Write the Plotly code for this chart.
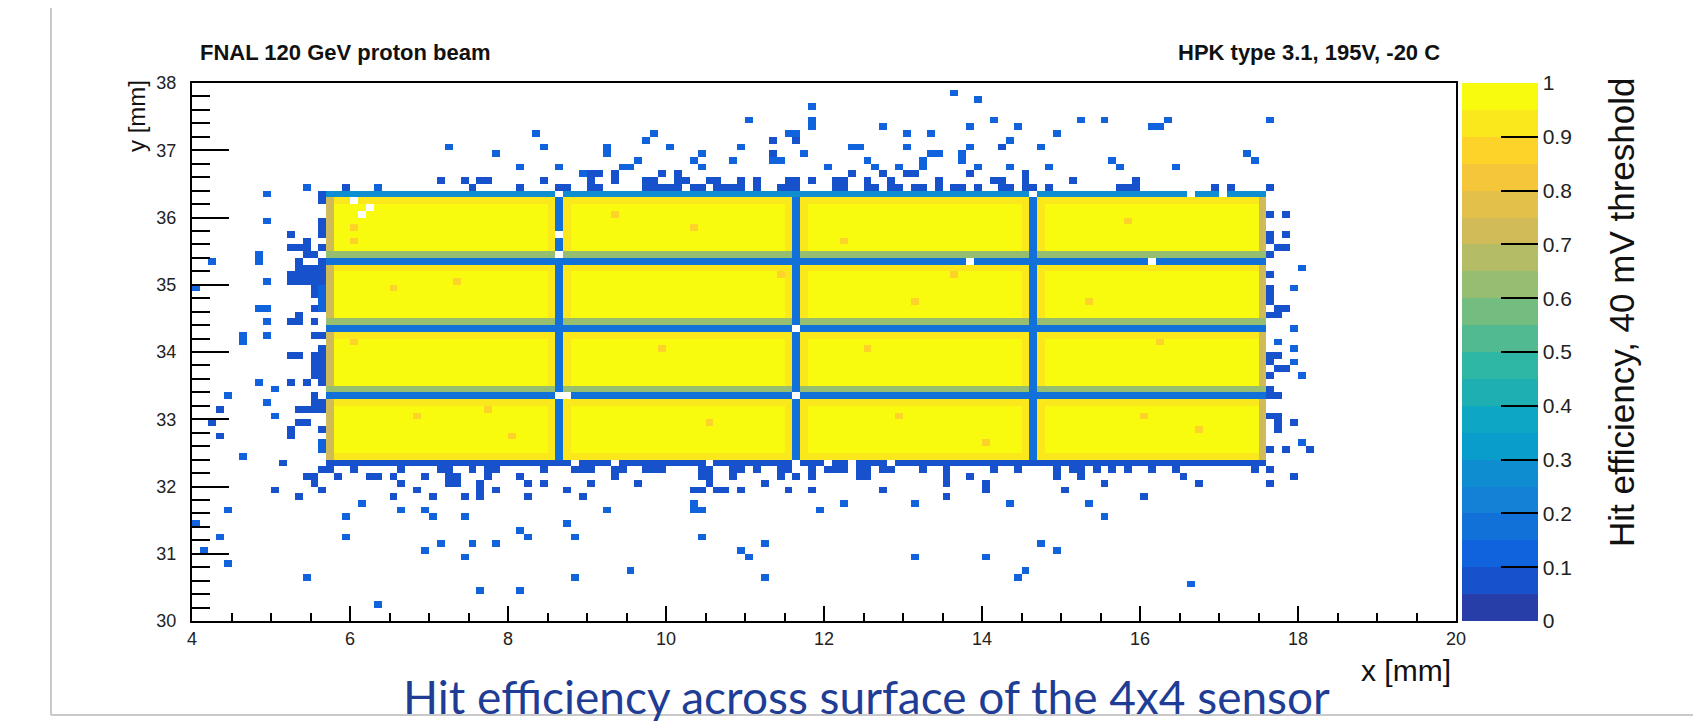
import plotly.graph_objects as go

# ---------------- data ----------------
X_MIN, X_MAX, Y_MIN, Y_MAX, BIN = 4.0, 20.0, 30.0, 38.0, 0.1

# sensor pads (lower, upper edges in mm)
PAD_X = [(5.7, 8.6), (8.7, 11.6), (11.7, 14.6), (14.7, 17.6)]
PAD_Y = [(32.4, 33.3), (33.5, 34.3), (34.5, 35.3), (35.5, 36.3)]
PAD_EFF = 0.985
GAP_SIDE_EFF = 0.9        # pad bins next to inter-pad gaps
LEFT_RIM_EFF = 0.74       # x = 5.7 column
RIGHT_RIM_EFF = 0.72      # x = 17.5 column
TOPBOT_RIM_EFF = 0.92     # first / last pad rows

# inter-pad gaps
VGAP_X = [8.6, 11.6, 14.6]
VGAP_EFF = 0.15
HGAP_LOW_Y = [33.3, 34.3, 35.3]
HGAP_LOW_EFF = 0.16
HGAP_HIGH_Y = [33.4, 34.4, 35.4]
HGAP_HIGH_EFF = 0.6

# sensor edges
TOP_EDGE_Y, TOP_EDGE_EFF = 36.3, 0.28
BOTTOM_EDGE_Y, BOTTOM_EDGE_EFF = 32.3, 0.09

# isolated low-efficiency bins (lower-left bin corners)
DARK_EFF = 0.06
DARK_BINS = [
    (5.9, 36.4), (7.1, 36.5), (7.4, 36.5), (7.5, 36.4), (7.6, 36.5), (7.7, 36.5), (8.1, 36.4),
    (8.4, 36.5), (8.6, 36.4), (8.7, 36.4), (9.0, 36.6), (9.1, 36.6), (9.0, 36.5),
    (9.0, 36.4), (9.1, 36.4), (9.7, 36.4), (9.8, 36.4), (9.9, 36.4), (10.0, 36.4), (10.1, 36.4),
    (10.3, 36.4), (10.4, 36.4), (10.6, 36.4), (10.7, 36.4), (10.8, 36.4), (10.9, 36.4),
    (11.1, 36.4), (11.4, 36.4), (11.5, 36.4), (11.6, 36.4), (12.1, 36.4), (12.2, 36.4),
    (12.5, 36.4), (12.6, 36.4), (12.8, 36.4), (12.9, 36.4), (13.1, 36.4), (13.2, 36.4),
    (13.4, 36.4), (13.6, 36.4), (13.7, 36.4), (13.9, 36.4), (14.2, 36.4), (14.3, 36.4),
    (14.5, 36.4), (14.6, 36.4), (14.8, 36.4), (15.7, 36.4), (15.8, 36.4), (15.9, 36.4),
    (16.9, 36.4), (17.1, 36.4), (17.6, 36.4),
    (9.3, 36.5), (9.7, 36.5), (9.8, 36.5), (10.1, 36.5), (10.2, 36.5), (10.5, 36.5),
    (10.6, 36.5), (10.9, 36.5), (11.1, 36.5), (11.5, 36.5), (11.6, 36.5), (11.8, 36.5),
    (12.1, 36.5), (12.2, 36.5), (12.5, 36.5), (12.8, 36.5), (13.4, 36.5), (14.1, 36.5),
    (14.2, 36.5), (14.5, 36.5), (15.1, 36.5), (15.9, 36.5),
    (9.3, 36.6), (9.9, 36.6), (10.1, 36.6), (12.3, 36.6), (12.7, 36.6), (13.0, 36.6),
    (13.1, 36.6), (13.8, 36.6), (14.5, 36.6), (11.3, 37.1), (11.3, 36.9), (11.6, 37.1),
    (14.2, 37.0),
    # left side
    (5.6, 36.3), (5.6, 36.2), (5.6, 35.9), (5.6, 35.8), (5.6, 35.7), (5.6, 35.5), (5.6, 35.3),
    (5.6, 35.2), (5.6, 35.1), (5.6, 35.0), (5.6, 34.2), (5.6, 34.0), (5.6, 33.9), (5.6, 33.8),
    (5.6, 33.7), (5.6, 33.6), (5.6, 33.5), (5.6, 33.2), (5.6, 33.1), (5.6, 32.8),
    (5.5, 35.4), (5.5, 35.2), (5.5, 35.1), (5.5, 35.0), (5.5, 34.9), (5.5, 34.8), (5.5, 34.6),
    (5.5, 34.4), (5.5, 34.2), (5.5, 33.9), (5.5, 33.8), (5.5, 33.7), (5.5, 33.6), (5.5, 33.3),
    (5.5, 33.2), (5.5, 33.1),
    (5.2, 35.7), (5.4, 35.6), (5.2, 35.5), (5.3, 35.5), (5.4, 35.5), (5.4, 35.4), (5.3, 35.3),
    (5.3, 35.2), (5.4, 35.2), (5.2, 35.1), (5.3, 35.1), (5.4, 35.1), (5.2, 35.0), (5.3, 35.0),
    (5.4, 35.0), (5.3, 34.5), (5.2, 34.4), (5.3, 34.4), (5.2, 33.9), (5.3, 33.9), (5.2, 33.5),
    (5.4, 33.5), (5.3, 33.1), (5.4, 33.1), (5.3, 32.9), (5.4, 32.9), (5.2, 32.8), (5.2, 32.7),
    (4.3, 33.1), (4.2, 32.9), (4.3, 32.7), (5.1, 32.3),
    # below the sensor
    (5.6, 32.2), (5.7, 32.2), (6.0, 32.2), (6.6, 32.2), (7.1, 32.2), (7.2, 32.2), (7.5, 32.2),
    (7.7, 32.2), (7.8, 32.2), (8.4, 32.2), (8.8, 32.2), (8.9, 32.2), (9.0, 32.2), (9.3, 32.2),
    (9.4, 32.2), (9.7, 32.2), (9.8, 32.2), (9.9, 32.2), (10.4, 32.2), (10.5, 32.2), (10.8, 32.2),
    (10.9, 32.2), (11.1, 32.2), (11.4, 32.2), (11.5, 32.2), (11.8, 32.2), (12.0, 32.2),
    (12.1, 32.2), (12.2, 32.2), (12.4, 32.2), (12.5, 32.2), (12.7, 32.2), (12.8, 32.2),
    (13.2, 32.2), (13.5, 32.2), (14.1, 32.2), (14.4, 32.2), (14.9, 32.2), (15.1, 32.2),
    (15.2, 32.2), (15.4, 32.2), (15.6, 32.2), (15.8, 32.2), (16.1, 32.2), (16.4, 32.2),
    (17.4, 32.2), (17.6, 32.2),
    (5.4, 32.1), (5.5, 32.1), (5.8, 32.1), (6.2, 32.1), (6.3, 32.1), (6.5, 32.1), (6.9, 32.1),
    (7.2, 32.1), (7.3, 32.1), (7.7, 32.1), (8.1, 32.1), (9.3, 32.1), (10.4, 32.1), (10.5, 32.1),
    (10.8, 32.1), (11.4, 32.1), (11.6, 32.1), (11.8, 32.1), (12.4, 32.1), (12.5, 32.1),
    (13.5, 32.1), (13.8, 32.1), (14.9, 32.1), (15.2, 32.1), (16.5, 32.1), (17.9, 32.1),
    (5.5, 32.0), (6.6, 32.0), (7.2, 32.0), (7.3, 32.0), (7.6, 32.0), (8.2, 32.0), (8.4, 32.0),
    (9.0, 32.0), (9.6, 32.0), (10.5, 32.0), (11.2, 32.0), (13.5, 32.0), (14.0, 32.0),
    (15.5, 32.0), (16.7, 32.0), (17.6, 32.0),
    (5.0, 31.9), (5.6, 31.9), (6.8, 31.9), (7.6, 31.9), (7.8, 31.9), (8.7, 31.9), (10.3, 31.9),
    (10.4, 31.9), (10.6, 31.9), (10.7, 31.9), (10.9, 31.9), (11.5, 31.9), (11.8, 31.9),
    (12.7, 31.9), (14.0, 31.9), (15.0, 31.9),
    (5.3, 31.8), (6.5, 31.8), (7.0, 31.8), (7.4, 31.8), (7.6, 31.8), (8.2, 31.8), (8.9, 31.8),
    (13.5, 31.8), (16.0, 31.8),
    # right side
    (17.6, 36.0), (17.8, 36.0), (17.6, 35.7), (17.6, 35.6), (17.8, 35.7), (17.7, 35.5),
    (17.8, 35.5), (17.6, 35.4), (17.6, 35.1), (17.6, 34.9), (17.6, 34.8), (17.6, 34.7),
    (17.7, 34.6), (17.8, 34.6), (17.7, 34.5), (17.6, 34.5), (17.6, 33.9), (17.7, 33.9),
    (17.6, 33.8), (17.7, 33.7), (17.8, 33.7), (17.6, 33.6), (17.6, 33.4), (17.6, 33.3),
    (17.7, 33.3), (17.6, 33.0), (17.7, 33.0), (17.7, 32.9), (17.7, 32.8), (17.6, 32.5),
    (17.8, 32.5), (18.1, 32.5), (17.9, 32.9),
]

BLUE_EFF = 0.13
BLUE_BINS = [
    (8.3, 37.2), (7.2, 37.0), (8.4, 37.0), (7.8, 36.9), (8.1, 36.7), (8.6, 36.7), (8.9, 36.6),
    (9.2, 37.0), (9.2, 36.9), (13.6, 37.8), (13.9, 37.7), (11.8, 37.6), (11.8, 37.4),
    (11.8, 37.3), (11.0, 37.4), (14.1, 37.4), (12.7, 37.3), (13.8, 37.3), (14.4, 37.3),
    (9.8, 37.2), (9.7, 37.1), (11.5, 37.2), (11.6, 37.2), (13.0, 37.2), (13.3, 37.2),
    (10.0, 37.0), (10.9, 37.0), (11.4, 36.8), (11.7, 36.9), (12.3, 37.0), (12.4, 37.0),
    (13.0, 37.0), (13.8, 37.0), (13.7, 36.9), (14.3, 37.1), (13.3, 36.9), (13.4, 36.9),
    (14.7, 37.0), (9.6, 36.8), (9.5, 36.7), (9.4, 36.7), (10.3, 36.8), (10.4, 36.9),
    (10.4, 36.7), (10.8, 36.8), (11.3, 36.8), (12.5, 36.8), (12.6, 36.7), (13.2, 36.8),
    (13.2, 36.7), (13.7, 36.8), (12.0, 36.7), (12.9, 36.7), (13.9, 36.7), (14.3, 36.7),
    (15.2, 37.4), (15.5, 37.4), (16.1, 37.3), (16.2, 37.3), (16.3, 37.4), (17.6, 37.4),
    (14.9, 37.2), (15.6, 36.8), (15.7, 36.7), (17.3, 36.9), (17.4, 36.8), (14.8, 36.7),
    (16.4, 36.7), (5.4, 36.4), (6.3, 36.4), (4.9, 36.3), (4.9, 35.9),
    (5.6, 34.9), (5.6, 34.8), (5.6, 34.7), (5.6, 34.6), (5.6, 32.6), (5.6, 32.5),
    (4.8, 35.4), (4.8, 35.3), (4.2, 35.3), (4.9, 35.0), (4.0, 34.9), (4.8, 34.6), (4.9, 34.6),
    (4.9, 34.4), (4.6, 34.2), (4.6, 34.1), (4.9, 34.2), (4.8, 33.5), (5.0, 33.4), (4.4, 33.3),
    (4.9, 33.2), (5.0, 33.0), (4.6, 32.4),
    (6.1, 31.7), (10.3, 31.7), (12.2, 31.7), (13.1, 31.7), (14.3, 31.7), (15.3, 31.7),
    (4.4, 31.6), (6.6, 31.6), (6.9, 31.6), (9.2, 31.6), (10.3, 31.6), (10.4, 31.6), (11.9, 31.6),
    (5.9, 31.5), (7.0, 31.5), (7.4, 31.5), (15.5, 31.5), (4.0, 31.4), (8.7, 31.4), (8.1, 31.3),
    (4.3, 31.2), (5.9, 31.2), (8.2, 31.2), (8.8, 31.2), (10.4, 31.2),
    (7.1, 31.1), (7.5, 31.1), (7.8, 31.1), (11.2, 31.1), (14.7, 31.1),
    (4.1, 31.0), (6.9, 31.0), (10.9, 31.0), (14.9, 31.0),
    (7.4, 30.9), (11.0, 30.9), (13.1, 30.9), (14.0, 30.9), (4.4, 30.8), (9.5, 30.7),
    (14.5, 30.7), (5.4, 30.6), (8.8, 30.6), (11.2, 30.6), (14.4, 30.6), (16.6, 30.5),
    (7.6, 30.4), (8.1, 30.4), (6.3, 30.2),
    (18.0, 35.2), (17.9, 34.9), (17.9, 34.3), (17.7, 34.1), (17.9, 34.0), (17.9, 33.8),
    (18.0, 33.6), (18.0, 32.6),
]

# slightly lower-efficiency bins inside the pads
WARM_EFF = 0.88
WARM_BINS = [
    (6.0, 35.8), (6.0, 35.6), (7.3, 35.0), (6.5, 34.9), (6.0, 34.1), (9.3, 36.0), (10.3, 35.8),
    (11.4, 35.1), (12.2, 35.6), (13.6, 35.1), (13.1, 34.7), (10.5, 32.9), (12.9, 33.0),
    (14.0, 32.6), (15.3, 34.7), (16.0, 33.0), (16.7, 32.8), (15.8, 35.9), (7.7, 33.1),
    (9.9, 34.0), (12.5, 34.0), (16.2, 34.1), (8.0, 32.7), (6.8, 33.0),
]

# empty bins inside the sensor area
EMPTY_BINS = [
    (8.6, 36.3), (8.6, 35.7), (8.6, 35.4), (11.6, 34.3), (8.6, 33.3), (8.7, 33.3), (11.6, 33.3),
    (13.8, 35.3), (16.1, 35.3), (6.1, 36.0), (6.2, 36.1), (14.6, 36.3), (9.3, 32.3),
    (10.5, 32.3), (11.6, 32.3), (12.0, 32.3), (12.3, 32.3), (12.8, 32.3), (8.8, 32.3),
    (16.6, 36.3), (17.0, 36.3), (5.6, 33.3), (6.0, 36.2),
]

X_TICKS = [4, 6, 8, 10, 12, 14, 16, 18, 20]
Y_TICKS = [30, 31, 32, 33, 34, 35, 36, 37, 38]
Z_TICKS = [0, 0.1, 0.2, 0.3, 0.4, 0.5, 0.6, 0.7, 0.8, 0.9, 1]
Z_TICK_TEXT = ["0", "0.1", "0.2", "0.3", "0.4", "0.5", "0.6", "0.7", "0.8", "0.9", "1"]

TITLE_LEFT = "FNAL 120 GeV proton beam"
TITLE_RIGHT = "HPK type 3.1, 195V, -20 C"
X_TITLE = "x [mm]"
Y_TITLE = "y [mm]"
Z_TITLE = "Hit efficiency, 40 mV threshold"
CAPTION = "Hit efficiency across surface of the 4x4 sensor"

# ---------------- build histogram grid ----------------
NX = int(round((X_MAX - X_MIN) / BIN))
NY = int(round((Y_MAX - Y_MIN) / BIN))
z = [[None] * NX for _ in range(NY)]


def ix(x):
    return int(round((x - X_MIN) / BIN))


def iy(y):
    return int(round((y - Y_MIN) / BIN))


def setbin(x, y, v):
    i, j = ix(x), iy(y)
    if 0 <= i < NX and 0 <= j < NY:
        z[j][i] = v


for (xl, xh) in PAD_X:
    for (yl, yh) in PAD_Y:
        for i in range(ix(xl), ix(xh)):
            for j in range(iy(yl), iy(yh)):
                z[j][i] = PAD_EFF

y_lo_all, y_hi_all = iy(PAD_Y[0][0]), iy(PAD_Y[-1][1])
x_lo_all, x_hi_all = ix(PAD_X[0][0]), ix(PAD_X[-1][1])

# rims
for j in range(y_lo_all, y_hi_all):
    for xg in VGAP_X:
        for i in (ix(xg) - 1, ix(xg) + 1):
            if z[j][i] is not None:
                z[j][i] = GAP_SIDE_EFF
    if z[j][x_lo_all] is not None:
        z[j][x_lo_all] = LEFT_RIM_EFF
    if z[j][x_hi_all - 1] is not None:
        z[j][x_hi_all - 1] = RIGHT_RIM_EFF
for i in range(x_lo_all + 1, x_hi_all - 1):
    for yg in HGAP_LOW_Y:
        if z[iy(yg) - 1][i] is not None:
            z[iy(yg) - 1][i] = GAP_SIDE_EFF
    for j in (y_lo_all, y_hi_all - 1):
        if z[j][i] is not None:
            z[j][i] = TOPBOT_RIM_EFF

# gaps
for i in range(x_lo_all, x_hi_all):
    for yg in HGAP_LOW_Y:
        z[iy(yg)][i] = HGAP_LOW_EFF
    for yg in HGAP_HIGH_Y:
        z[iy(yg)][i] = HGAP_HIGH_EFF
for xg in VGAP_X:
    for j in range(iy(BOTTOM_EDGE_Y), iy(TOP_EDGE_Y) + 1):
        z[j][ix(xg)] = VGAP_EFF
for i in range(x_lo_all, x_hi_all):
    z[iy(TOP_EDGE_Y)][i] = TOP_EDGE_EFF
    z[iy(BOTTOM_EDGE_Y)][i] = BOTTOM_EDGE_EFF

for (x, y) in WARM_BINS:
    setbin(x, y, WARM_EFF)
for (x, y) in DARK_BINS:
    setbin(x, y, DARK_EFF)
for (x, y) in BLUE_BINS:
    setbin(x, y, BLUE_EFF)
for (x, y) in EMPTY_BINS:
    setbin(x, y, None)

# ---------------- ROOT kBird palette, 20 contour levels ----------------
STOPS = [0.0, 0.125, 0.25, 0.375, 0.5, 0.625, 0.75, 0.875, 1.0]
RED = [0.2082, 0.0592, 0.0780, 0.0232, 0.1802, 0.5301, 0.8186, 0.9956, 0.9764]
GREEN = [0.1664, 0.3599, 0.5041, 0.6419, 0.7178, 0.7492, 0.7328, 0.7862, 0.9832]
BLUE = [0.5293, 0.8684, 0.8385, 0.7914, 0.6425, 0.4662, 0.3499, 0.1968, 0.0539]


def bird(t):
    for k in range(len(STOPS) - 1):
        if t <= STOPS[k + 1]:
            f = (t - STOPS[k]) / (STOPS[k + 1] - STOPS[k])
            r = RED[k] + f * (RED[k + 1] - RED[k])
            g = GREEN[k] + f * (GREEN[k + 1] - GREEN[k])
            b = BLUE[k] + f * (BLUE[k + 1] - BLUE[k])
            return "rgb(%d,%d,%d)" % (round(r * 255), round(g * 255), round(b * 255))
    return "rgb(249,251,14)"


NLEV = 20
colorscale = []
for k in range(NLEV):
    t = min(1.0, int((k + 0.99) * 255 / NLEV) / 254.0)
    c = bird(t)
    colorscale.append([k / NLEV, c])
    colorscale.append([(k + 1) / NLEV, c])

# ---------------- figure ----------------
W, H = 1701, 721
L, R, T, B = 184, 253, 75, 108
PW, PH = W - L - R, H - T - B


def px(xp):
    return (xp - L) / PW


def py(yp):
    return (H - B - yp) / PH


FONT = "Liberation Sans, Arial, sans-serif"

fig = go.Figure(go.Heatmap(
    z=z, x0=X_MIN + BIN / 2, dx=BIN, y0=Y_MIN + BIN / 2, dy=BIN,
    zmin=0, zmax=1, colorscale=colorscale, hoverongaps=False,
    colorbar=dict(
        x=px(1454), xref="paper", xanchor="left", y=0.5, yanchor="middle",
        len=1.0, lenmode="fraction", thickness=76, thicknessmode="pixels",
        xpad=0, ypad=0, outlinewidth=0,
        ticks="inside", ticklen=37, tickwidth=2, tickcolor="black",
        tickvals=Z_TICKS, ticktext=Z_TICK_TEXT,
        tickfont=dict(family=FONT, size=21, color="#222"),
    ),
))

fig.update_layout(
    width=W, height=H, autosize=False,
    margin=dict(l=L, r=R, t=T, b=B, pad=0),
    paper_bgcolor="white", plot_bgcolor="white",
    showlegend=False,
    xaxis=dict(
        range=[X_MIN, X_MAX], tickvals=X_TICKS, ticks="inside", ticklen=15, tickwidth=1.5,
        tickcolor="black", showgrid=False, zeroline=False, showline=True, linecolor="black",
        linewidth=2, mirror=True, ticklabelstandoff=0,
        tickfont=dict(family=FONT, size=18, color="#222"),
        minor=dict(dtick=0.5, ticks="inside", ticklen=8, tickwidth=1.5, tickcolor="black",
                   showgrid=False),
    ),
    yaxis=dict(
        range=[Y_MIN, Y_MAX], tickvals=Y_TICKS, ticks="inside", ticklen=37, tickwidth=1.5,
        tickcolor="black", showgrid=False, zeroline=False, showline=True, linecolor="black",
        linewidth=2, mirror=True, ticklabelstandoff=10,
        tickfont=dict(family=FONT, size=18, color="#222"),
        minor=dict(dtick=0.2, ticks="inside", ticklen=18, tickwidth=1.5, tickcolor="black",
                   showgrid=False),
    ),
)

ann = [
    dict(text="<b>%s</b>" % TITLE_LEFT, x=px(190), y=py(45), xanchor="left", yanchor="middle",
         font=dict(family=FONT, size=22, color="#111")),
    dict(text="<b>%s</b>" % TITLE_RIGHT, x=px(1434), y=py(45), xanchor="right", yanchor="middle",
         font=dict(family=FONT, size=22, color="#111")),
    dict(text=Y_TITLE, x=px(128), y=py(108), textangle=-90, xanchor="center", yanchor="middle",
         font=dict(family=FONT, size=24, color="#111")),
    dict(text=X_TITLE, x=px(1445), y=py(662), xanchor="right", yanchor="middle",
         font=dict(family=FONT, size=30, color="#111")),
    dict(text=Z_TITLE, x=px(1613), y=py(305), textangle=-90, xanchor="center", yanchor="middle",
         font=dict(family=FONT, size=35, color="#111")),
    dict(text=CAPTION, x=px(858), y=py(688), xanchor="center", yanchor="middle",
         font=dict(family="Lato, Open Sans, sans-serif", size=46, color="#1f3d95")),
]
for a in ann:
    a.update(xref="paper", yref="paper", showarrow=False)
fig.update_layout(annotations=ann)

fig.update_layout(shapes=[
    dict(type="line", xref="paper", yref="paper", x0=px(43), x1=px(43), y0=py(0), y1=py(707),
         line=dict(color="#c9c9c9", width=2), layer="below"),
    dict(type="line", xref="paper", yref="paper", x0=px(43), x1=px(1701), y0=py(707), y1=py(707),
         line=dict(color="#c9c9c9", width=2), layer="below"),
])

fig.write_html("out.html")
